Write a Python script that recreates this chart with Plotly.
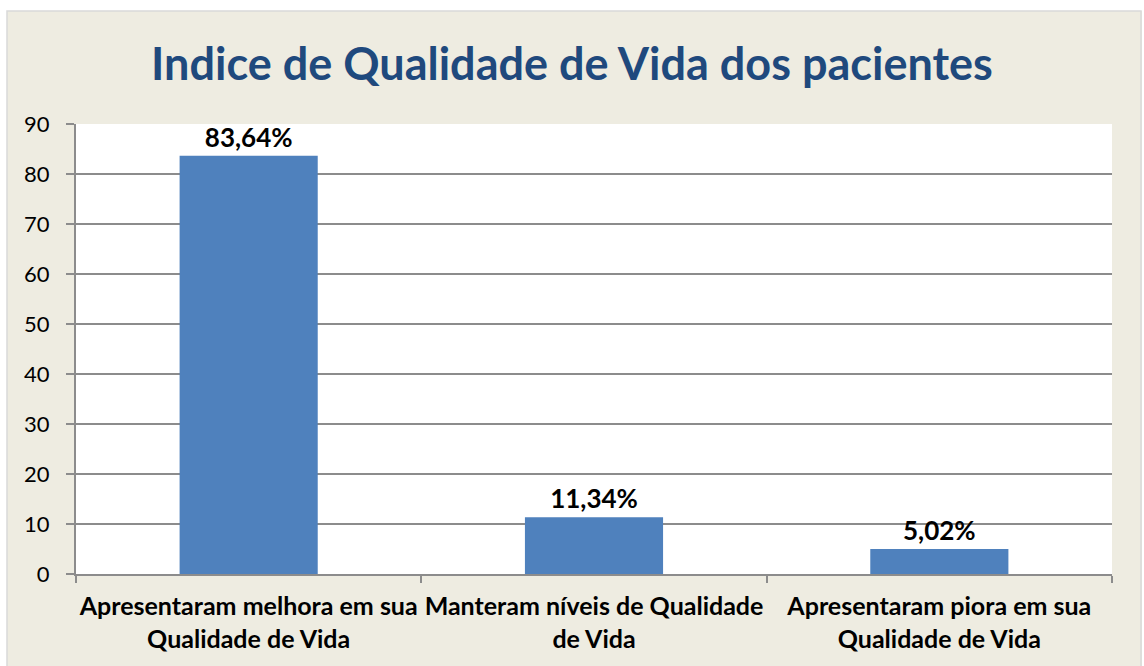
import plotly.graph_objects as go

categories = ["Apresentaram melhora em sua<br>Qualidade de Vida",
              "Manteram níveis de Qualidade<br>de Vida",
              "Apresentaram piora em sua<br>Qualidade de Vida"]
values = [83.64, 11.34, 5.02]
value_labels = ["83,64%", "11,34%", "5,02%"]
y_ticks = [0, 10, 20, 30, 40, 50, 60, 70, 80, 90]

W, H = 1144, 666
L, R, T, B = 76, 32, 124, 92
pw, ph = W - L - R, H - T - B

def px(x):
    return (x - L) / pw

def py(y):
    return (H - B - y) / ph

FONT = "Lato"
fig = go.Figure(go.Bar(
    x=categories, y=values, width=0.4,
    marker=dict(color="#4F81BD", line=dict(width=0)),
    text=value_labels, textposition="outside", cliponaxis=False,
    textfont=dict(family=FONT, size=26, color="#000000", weight="bold"),
))

fig.update_layout(
    width=W, height=H,
    margin=dict(l=L, r=R, t=T, b=B, autoexpand=False),
    paper_bgcolor="#EEECE1", plot_bgcolor="#FFFFFF",
    font=dict(family=FONT, color="#000000"),
    title=dict(text="<b>Indice de Qualidade de Vida dos pacientes</b>",
               x=0.5, xanchor="center", y=1 - 64 / H, yanchor="middle",
               font=dict(family=FONT, size=45, color="#1F497D")),
    showlegend=False,
    bargap=0.6,
    uniformtext=dict(mode=False),
    shapes=[
        dict(type="rect", xref="paper", yref="paper", x0=px(0), x1=px(W), y0=py(0), y1=py(11),
             fillcolor="#FFFFFF", line=dict(width=0), layer="below"),
        dict(type="rect", xref="paper", yref="paper", x0=px(0), x1=px(7), y0=py(H), y1=py(0),
             fillcolor="#FFFFFF", line=dict(width=0), layer="below"),
        dict(type="rect", xref="paper", yref="paper", x0=px(1142), x1=px(W), y0=py(H), y1=py(0),
             fillcolor="#FFFFFF", line=dict(width=0), layer="below"),
        dict(type="rect", xref="paper", yref="paper", x0=px(7), x1=px(1141), y0=py(H + 2), y1=py(11),
             fillcolor="rgba(0,0,0,0)", line=dict(width=1.5, color="#D9D9D9"), layer="above"),
    ],
)
fig.update_xaxes(
    type="category", showgrid=False, showline=True, linecolor="#8C8C8C", linewidth=2,
    ticks="outside", tickson="boundaries", ticklen=7, tickcolor="#8C8C8C", tickwidth=1.5,
    tickfont=dict(family=FONT, size=25, color="#000000", weight="bold"),
    tickangle=0, automargin=False,
    ticklabelstandoff=9,
    fixedrange=True,
)
fig.update_yaxes(
    range=[0, 90], tickvals=y_ticks, showgrid=True, gridcolor="#8C8C8C", gridwidth=1.5,
    showline=True, linecolor="#8C8C8C", linewidth=2, zeroline=False,
    ticks="outside", ticklen=8, tickcolor="#8C8C8C", tickwidth=1.5,
    tickfont=dict(family=FONT, size=22, color="#000000"),
    automargin=False,
    ticklabelstandoff=12,
    fixedrange=True,
)
fig.write_html("out.html")
